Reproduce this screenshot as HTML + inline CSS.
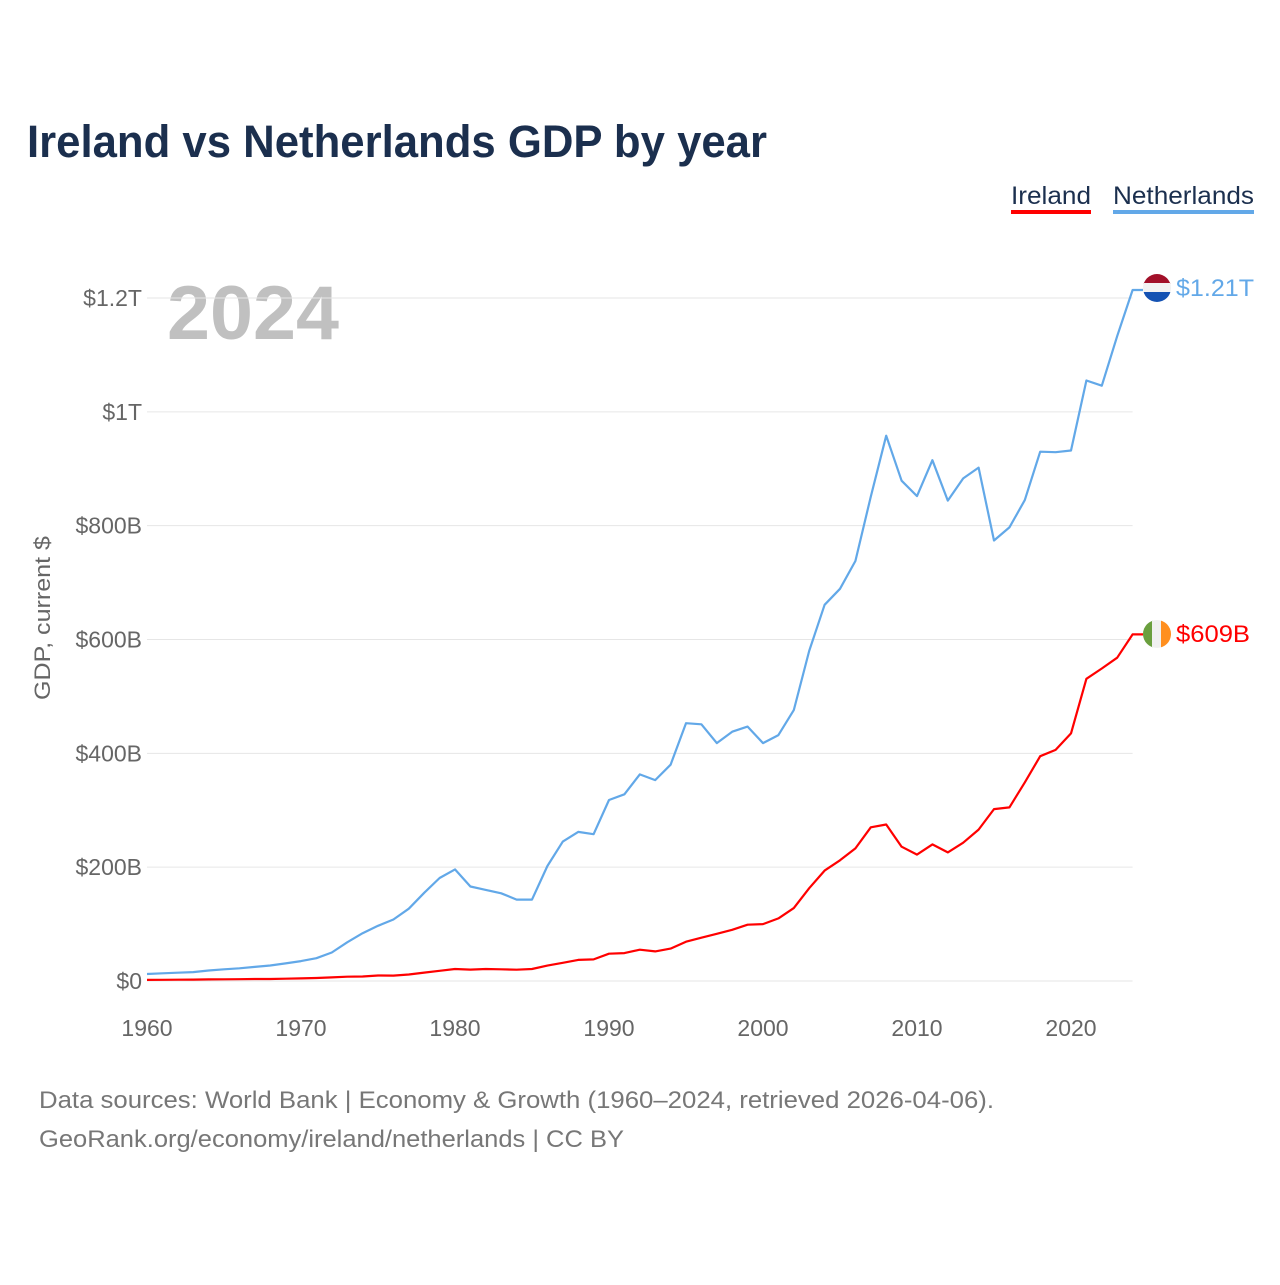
<!DOCTYPE html>
<html><head><meta charset="utf-8">
<style>
html,body{margin:0;padding:0;background:#fff;}
body{width:1280px;height:1280px;position:relative;overflow:hidden;font-family:"Liberation Sans",sans-serif;}
svg text{font-family:"Liberation Sans",sans-serif;}
</style></head>
<body>
<svg id="chart" width="1280" height="1280" viewBox="0 0 1280 1280" xmlns="http://www.w3.org/2000/svg">
<text x="27" y="157" font-size="45" font-weight="bold" fill="#1b2f4e" textLength="740" lengthAdjust="spacingAndGlyphs">Ireland vs Netherlands GDP by year</text>
<g>
<g>
<text x="1011" y="204" font-size="25" fill="#1b2f4e" textLength="80" lengthAdjust="spacingAndGlyphs">Ireland</text>
<rect x="1011" y="210" width="80" height="4" fill="#ff0000"/>
</g>
<g>
<text x="1113" y="204" font-size="25" fill="#1b2f4e" textLength="141" lengthAdjust="spacingAndGlyphs">Netherlands</text>
<rect x="1113" y="210" width="141" height="4" fill="#62a8e8"/>
</g>
</g>
<text x="167" y="339" font-size="76" font-weight="bold" fill="#c0c0c0" textLength="172" lengthAdjust="spacingAndGlyphs">2024</text>
<g id="grid"></g>
<g id="yticks"></g>
<g id="xticks"></g>
<text transform="translate(50,618) rotate(-90)" text-anchor="middle" font-size="22" fill="#666" textLength="164" lengthAdjust="spacingAndGlyphs">GDP, current $</text>
<g id="series"></g>
<g>
<clipPath id="c1"><circle cx="1157" cy="288" r="14"/></clipPath>
<g clip-path="url(#c1)"><rect x="1143" y="274" width="28" height="10" fill="#a21029"/><rect x="1143" y="283" width="28" height="10" fill="#f2f2f2"/><rect x="1143" y="292" width="28" height="10" fill="#1452b3"/></g>
</g>
<text x="1176" y="296" font-size="24" fill="#62a8e8" textLength="78" lengthAdjust="spacingAndGlyphs">$1.21T</text>
<g>
<clipPath id="c2"><circle cx="1157" cy="634" r="14"/></clipPath>
<g clip-path="url(#c2)"><rect x="1143" y="620" width="10" height="28" fill="#6a9f3e"/><rect x="1152" y="620" width="10" height="28" fill="#f0f0f0"/><rect x="1161" y="620" width="10" height="28" fill="#ff8f1f"/></g>
</g>
<text x="1176" y="642" font-size="24" fill="#ff0000" textLength="74" lengthAdjust="spacingAndGlyphs">$609B</text>
<text x="39" y="1108" font-size="24" fill="#777" textLength="955" lengthAdjust="spacingAndGlyphs">Data sources: World Bank | Economy &amp; Growth (1960–2024, retrieved 2026-04-06).</text>
<text x="39" y="1147" font-size="24" fill="#777" textLength="585" lengthAdjust="spacingAndGlyphs">GeoRank.org/economy/ireland/netherlands | CC BY</text>
</svg>
<script>
const years = [];
for (let y = 1960; y <= 2024; y++) years.push(y);
const netherlands = [12.3,13.5,14.5,15.6,18.4,20.6,22.4,24.7,27.3,31,35,40,50,68,84,97,108,127,155,181,196,166,160,154,143,143,202,245,262,258,318,328,363,353,380,453,451,418,438,447,418,432,476,580,661,689,738,851,958,879,852,915,844,883,902,774,797,845,930,929,932,1055,1046,1133,1214];
const ireland = [1.9,2.1,2.3,2.5,2.8,3.0,3.2,3.5,3.6,4.1,4.6,5.2,6.4,7.5,7.9,9.6,9.5,11.5,14.7,18,21,20,21,20.6,19.9,21,27,32,37,38,48,49,55,52,57,69,76,83,90,99,100,110,128,163,194,212,233,270,275,236,222,240,226,243,266,302,305,349,395,406,435,531,549,568,609];
const yTicks = [0,200,400,600,800,1000,1200];
const yTickLabels = ["$0","$200B","$400B","$600B","$800B","$1T","$1.2T"];
const xTicks = [1960,1970,1980,1990,2000,2010,2020];

const NS = "http://www.w3.org/2000/svg";
const X0 = 147, X1 = 1132.6, Y0 = 981, Y1200 = 298;
const xs = y => X0 + (y - 1960) * (X1 - X0) / 64;
const ys = v => Y0 - v * (Y0 - Y1200) / 1200;
function mk(tag, attrs, parent){const e=document.createElementNS(NS,tag);for(const k in attrs)e.setAttribute(k,attrs[k]);parent.appendChild(e);return e;}
const grid=document.getElementById('grid'), yt=document.getElementById('yticks'), xt=document.getElementById('xticks'), ser=document.getElementById('series');
yTicks.forEach((v,i)=>{
  const l=mk('line',{x1:X0,x2:X1,y1:ys(v),y2:ys(v),stroke:'#e6e6e6','stroke-width':1},grid);
  
  
  const t=mk('text',{x:142,y:ys(v)+8,'text-anchor':'end','font-size':23,fill:'#666'},yt);
  t.textContent=yTickLabels[i];
  
  
});
xTicks.forEach(y=>{
  const t=mk('text',{x:xs(y),y:1036,'text-anchor':'middle','font-size':23,fill:'#666'},xt);
  t.textContent=String(y);
  
  
});
function line(vals,color,name){
  let d=vals.map((v,i)=>(i?'L':'M')+xs(years[i]).toFixed(1)+','+ys(v).toFixed(1)).join('');
  d+='L1143,'+ys(vals[vals.length-1]).toFixed(1);
  const p=mk('path',{d:d,fill:'none',stroke:color,'stroke-width':2.2,'stroke-linejoin':'round'},ser);
  
  
}
line(netherlands,'#62a8e8','netherlands-line');
line(ireland,'#ff0000','ireland-line');
</script>
</body></html>
